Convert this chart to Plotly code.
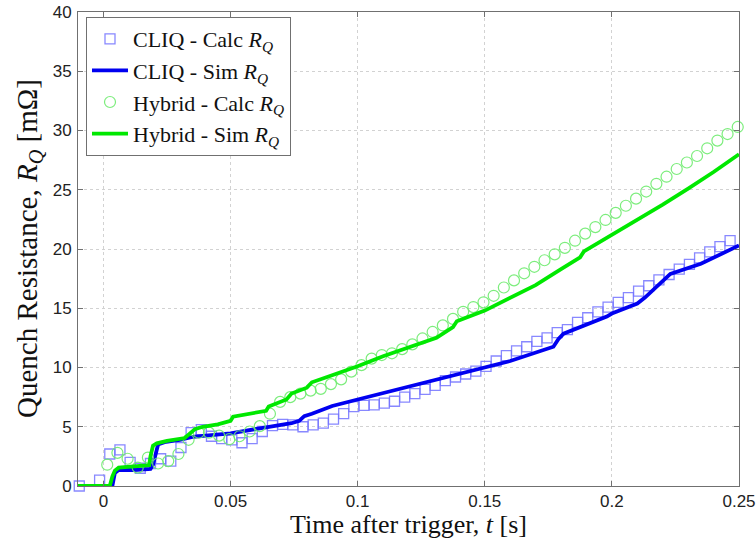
import plotly.graph_objects as go

# ---- data ----
cliq_calc_t = [-0.0095, -0.0015, 0.0025, 0.0065, 0.0105, 0.0145, 0.0185, 0.0225, 0.0265, 0.0305,
               0.0345, 0.0385, 0.0425, 0.0465, 0.0505, 0.0545, 0.0585, 0.0625, 0.0665, 0.0705,
               0.0745, 0.0785, 0.0825, 0.0865, 0.0905, 0.0945, 0.0985, 0.1025, 0.1065, 0.1105,
               0.1145, 0.1185, 0.1225, 0.1265, 0.1305, 0.1345, 0.1385, 0.1425, 0.1465, 0.1505,
               0.1545, 0.1585, 0.1625, 0.1665, 0.1705, 0.1745, 0.1785, 0.1825, 0.1865, 0.1905,
               0.1945, 0.1985, 0.2025, 0.2065, 0.2105, 0.2145, 0.2185, 0.2225, 0.2265, 0.2305,
               0.2345, 0.2385, 0.2425, 0.2465]
cliq_calc_r = [0.0, 0.5, 2.7, 3.05, 2.0, 1.5, 1.9, 2.3, 2.1, 3.25,
               4.5, 4.75, 4.2, 4.0, 3.9, 3.65, 4.0, 4.6, 5.1, 5.2,
               5.15, 5.0, 5.15, 5.3, 5.65, 6.1, 6.7, 6.8, 6.85, 7.0,
               7.15, 7.5, 7.8, 8.15, 8.5, 8.9, 9.2, 9.45, 9.7, 10.1,
               10.55, 11.0, 11.4, 11.75, 12.2, 12.5, 12.95, 13.2, 13.8, 14.2,
               14.7, 15.1, 15.5, 15.9, 16.45, 16.9, 17.4, 17.85, 18.3, 18.7,
               19.25, 19.75, 20.2, 20.7]

cliq_sim_t = [-0.01, 0.0035, 0.0045, 0.006, 0.012, 0.0185, 0.0195, 0.0205, 0.0215, 0.024,
              0.03, 0.035, 0.044, 0.05, 0.061, 0.065, 0.074, 0.077, 0.079, 0.082,
              0.086, 0.09, 0.1, 0.113, 0.126, 0.139, 0.15, 0.16, 0.177, 0.179,
              0.181, 0.19, 0.198, 0.2, 0.21, 0.213, 0.216, 0.2205, 0.223, 0.235, 0.25]
cliq_sim_r = [0.0, 0.0, 1.1, 1.35, 1.35, 1.45, 1.8, 2.8, 3.5, 3.7,
              3.9, 4.15, 4.3, 4.45, 4.85, 5.0, 5.3, 5.5, 5.9, 6.1,
              6.4, 6.75, 7.3, 8.0, 8.7, 9.4, 10.0, 10.55, 11.75, 12.4,
              12.85, 13.6, 14.3, 14.55, 15.4, 15.9, 16.5, 17.5, 17.9, 18.75, 20.3]

hyb_calc_t = [0.0015, 0.0055, 0.0095, 0.0135, 0.0175, 0.0215, 0.0255, 0.0295, 0.0335, 0.0375,
              0.0415, 0.0455, 0.0495, 0.0535, 0.0575, 0.0615, 0.0655, 0.0695, 0.0735, 0.0775,
              0.0815, 0.0855, 0.0895, 0.0935, 0.0975, 0.1015, 0.1055, 0.1095, 0.1135, 0.1175,
              0.1215, 0.1255, 0.1295, 0.1335, 0.1375, 0.1415, 0.1455, 0.1495, 0.1535, 0.1575,
              0.1615, 0.1655, 0.1695, 0.1735, 0.1775, 0.1815, 0.1855, 0.1895, 0.1935, 0.1975,
              0.2015, 0.2055, 0.2095, 0.2135, 0.2175, 0.2215, 0.2255, 0.2295, 0.2335, 0.2375,
              0.2415, 0.2455, 0.2495]
hyb_calc_r = [1.8, 2.8, 2.3, 1.55, 2.4, 1.9, 2.1, 2.7, 3.9, 4.5,
              4.5, 4.25, 3.95, 4.2, 4.6, 5.05, 6.1, 7.1, 7.5, 7.8,
              8.05, 8.2, 8.6, 9.0, 9.65, 10.2, 10.75, 11.05, 11.2, 11.55,
              11.95, 12.45, 13.0, 13.55, 14.1, 14.7, 15.1, 15.5, 16.05, 16.75,
              17.35, 17.95, 18.5, 19.05, 19.55, 20.1, 20.7, 21.3, 21.85, 22.45,
              23.05, 23.65, 24.25, 24.85, 25.5, 26.1, 26.75, 27.3, 27.85, 28.5,
              29.15, 29.7, 30.3]

hyb_sim_t = [-0.01, 0.0025, 0.0035, 0.0045, 0.006, 0.012, 0.018, 0.0185, 0.0195, 0.021,
             0.025, 0.032, 0.034, 0.036, 0.039, 0.045, 0.05, 0.051, 0.064, 0.065,
             0.072, 0.074, 0.08, 0.082, 0.088, 0.1, 0.11, 0.12, 0.131, 0.1375,
             0.139, 0.15, 0.16, 0.17, 0.18, 0.1875, 0.189, 0.2, 0.21, 0.22,
             0.23, 0.24, 0.25]
hyb_sim_r = [0.0, 0.0, 0.8, 1.3, 1.55, 1.65, 1.75, 2.5, 3.4, 3.6,
             3.8, 4.05, 4.4, 4.8, 5.0, 5.2, 5.5, 5.85, 6.35, 6.7,
             7.3, 7.8, 8.3, 8.75, 9.2, 10.1, 10.95, 11.7, 12.5, 13.4,
             13.9, 14.8, 15.85, 16.95, 18.3, 19.3, 19.8, 21.2, 22.45, 23.75,
             25.1, 26.5, 28.0]

x_ticks = [0, 0.05, 0.1, 0.15, 0.2, 0.25]
y_ticks = [0, 5, 10, 15, 20, 25, 30, 35, 40]

serif = "Liberation Serif, Times New Roman, serif"
sans = "Liberation Sans, Arial, sans-serif"

fig = go.Figure()
fig.add_trace(go.Scatter(
    x=cliq_calc_t, y=cliq_calc_r, mode="markers",
    name="CLIQ - Calc <i>R</i><sub><i>Q</i></sub>",
    marker=dict(symbol="square-open", size=10, color="rgba(115,115,255,0.85)",
                line=dict(width=1.3)),
    cliponaxis=False))
fig.add_trace(go.Scatter(
    x=cliq_sim_t, y=cliq_sim_r, mode="lines",
    name="CLIQ - Sim <i>R</i><sub><i>Q</i></sub>",
    line=dict(color="#0000f0", width=3.8)))
fig.add_trace(go.Scatter(
    x=hyb_calc_t, y=hyb_calc_r, mode="markers",
    name="Hybrid - Calc <i>R</i><sub><i>Q</i></sub>",
    marker=dict(symbol="circle-open", size=11, color="rgba(110,235,110,0.9)",
                line=dict(width=1.2)),
    cliponaxis=False))
fig.add_trace(go.Scatter(
    x=hyb_sim_t, y=hyb_sim_r, mode="lines",
    name="Hybrid - Sim <i>R</i><sub><i>Q</i></sub>",
    line=dict(color="#00e800", width=3.8)))

axis_common = dict(
    showline=True, linecolor="#707070", linewidth=1, mirror="ticks",
    ticks="inside", ticklen=5, tickcolor="#707070",
    showgrid=True, gridcolor="#d2d2d2", griddash="dot", gridwidth=1,
    zeroline=False, automargin=False, ticklabeloverflow="allow",
    tickfont=dict(family=sans, size=17, color="#222222"),
)

fig.update_xaxes(range=[-0.01, 0.25], tickvals=x_ticks,
                 ticktext=[str(v) for v in x_ticks], **axis_common)
fig.update_yaxes(range=[0, 40], tickvals=y_ticks, ticklabelstandoff=2, **axis_common)

fig.update_layout(
    width=756, height=538,
    margin=dict(l=78, r=17, t=12, b=52),
    paper_bgcolor="white", plot_bgcolor="white",
    showlegend=True,
    legend=dict(x=0.0121, y=0.9895, xanchor="left", yanchor="top",
                bgcolor="white", bordercolor="#707070", borderwidth=1,
                font=dict(family=serif, size=22, color="#111111"),
                itemwidth=36, tracegroupgap=0),
    annotations=[
        dict(text="Time after trigger, <i>t</i> [s]", xref="paper", yref="paper",
             x=0.5, y=0, xanchor="center", yanchor="middle", yshift=-38,
             showarrow=False, font=dict(family=serif, size=26, color="#111111")),
        dict(text="Quench Resistance, <i>R</i><sub><i>Q</i></sub> [mΩ]",
             xref="paper", yref="paper", x=0, y=0.5, xanchor="center", yanchor="middle",
             xshift=-49, textangle=-90, showarrow=False,
             font=dict(family=serif, size=29, color="#111111")),
    ],
)

fig.write_html("out.html", config={"displayModeBar": False},
               post_script="document.body.style.margin='0';")
